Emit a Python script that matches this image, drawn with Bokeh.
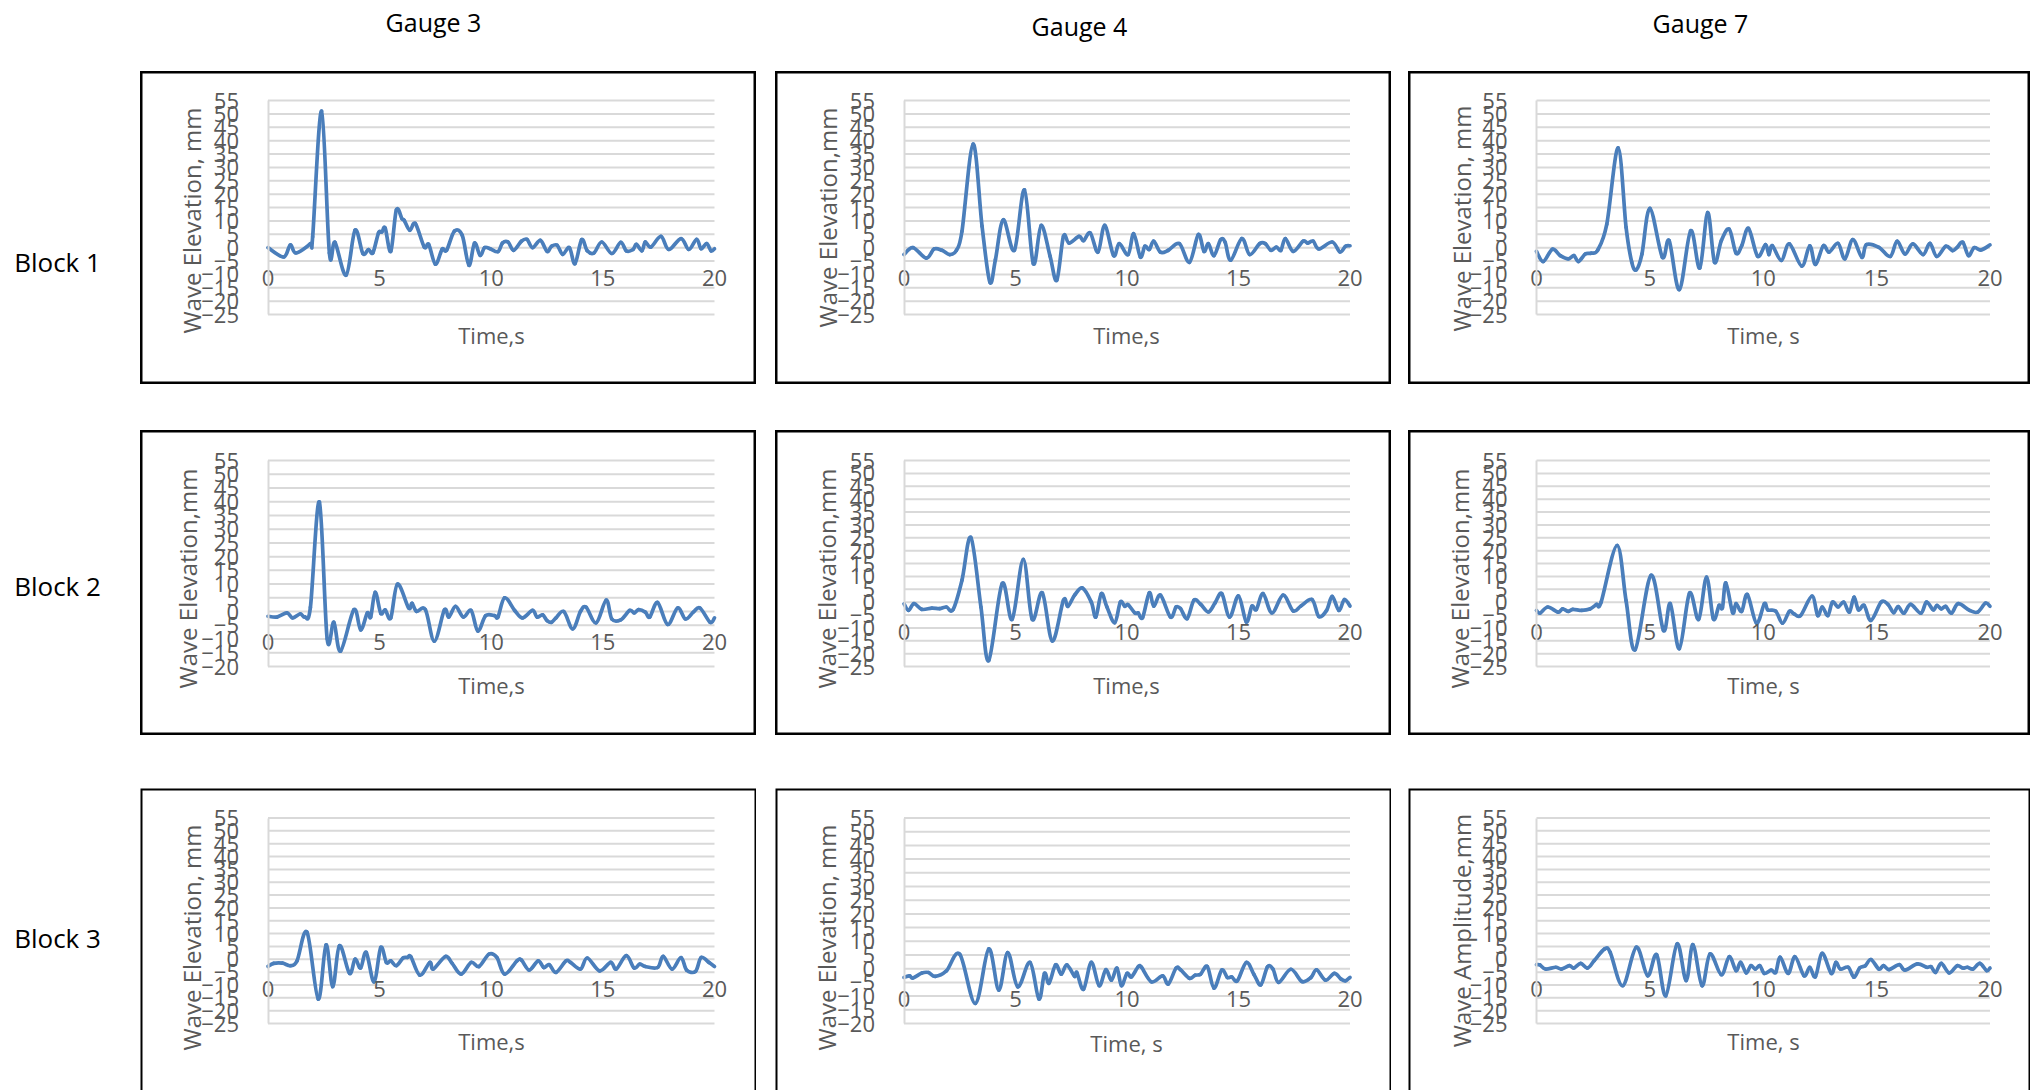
from math import pi
from bokeh.plotting import figure
from bokeh.models import Range1d, LinearAxis, FixedTicker, Spacer
from bokeh.layouts import row, column
from bokeh.core.properties import value
from bokeh.embed import file_html
from bokeh.resources import INLINE

# ---------------- data ----------------
gauges = ["Gauge 3", "Gauge 4", "Gauge 7"]
blocks = ["Block 1", "Block 2", "Block 3"]
x_ticks = [0, 5, 10, 15, 20]

t_b1_g3 = [0, 0.7, 1.0, 1.25, 1.9, 2.0, 2.4, 2.75, 3.0, 3.5, 3.9, 4.25, 4.5, 4.7, 4.95, 5.1, 5.25, 5.5, 5.75, 6.0,
           6.1, 6.35, 6.6, 7.0, 7.2, 7.5, 7.8, 8.0, 8.35, 8.7, 9.0, 9.25, 9.5, 9.7, 9.95, 10.3, 10.5, 10.75, 11.0, 11.35,
           11.6, 11.85, 12.2, 12.5, 12.7, 12.95, 13.2, 13.5, 13.75, 14.05, 14.3, 14.6, 14.95, 15.4, 15.8, 16.05, 16.35,
           16.5, 16.75, 16.9, 17.15, 17.6, 17.95, 18.5, 18.85, 19.2, 19.4, 19.65, 19.85, 20]
y_b1_g3 = [0, -3.5, 1, -2, 1.5, 4, 51, -2, 2, -10.3, 6.5, -2.2, -0.7, -1.9, 5.5, 5.8, 7.3, -1.4, 14.1, 10.8,
           10.2, 6.5, 9, 0.2, 1.2, -6.2, -0.6, -1, 6.2, 4.6, -6.6, 1.7, -2.9, 0, -0.4, -1.5, 1.7, 2.1, -1, 2.4,
           3.1, 0, 2.7, -1.4, 0.5, 0.9, -2.5, 0, -6, 3, -1.2, -2, 2.1, -2.2, 2, -1.2, -0.7,
           1.2, -1.2, 2.1, 0.2, 4.2, -0.7, 3.4, -0.7, 3.1, -0.4, 1.5, -1.2, -0.4]

t_b1_g4 = [0, 0.4, 1.0, 1.35, 1.7, 2.05, 2.35, 2.6, 3.1, 3.5, 3.85, 4.1, 4.45, 4.95, 5.4, 5.8, 6.15, 6.55, 6.85, 7.15,
           7.4, 7.85, 8.05, 8.35, 8.7, 9.0, 9.4, 9.65, 10.05, 10.3, 10.6, 10.8, 11.0, 11.2, 11.5, 11.85, 12.35, 12.8,
           13.2, 13.45, 13.65, 13.9, 14.2, 14.4, 14.65, 15.15, 15.5, 15.95, 16.2, 16.45, 16.7, 16.9, 17.1, 17.45,
           17.9, 18.1, 18.35, 18.6, 19.2, 19.55, 19.8, 20]
y_b1_g4 = [-2.6, 0, -3.9, -0.5, -1, -2.6, -1, 6.1, 38.7, 8, -12.9, -4.5, 10.4, -1, 21.6, -6, 8.3, -3.2, -12.2, 4.2,
           1.7, 4.2, 2.6, 5.5, -1.7, 8.3, -3, 1.5, -2.6, 5.2, -3.5, 0.5, -0.7, 2.4, -1.7, -1, 1.5, -5.5,
           4.9, -1.4, 1.5, -3, 3, 2, -4.7, 3.4, -2.6, 1.5, 1.5, -1, 0.2, -1, 3.4, -1.4,
           2.4, 1.7, 2.4, -0.5, 2.1, -1.6, 0.5, 0.7]

t_b1_g7 = [0, 0.3, 0.7, 1.05, 1.4, 1.65, 1.85, 2.15, 2.4, 2.7, 3.1, 3.6, 3.95, 4.2, 4.4, 4.65, 5.0, 5.55, 5.85, 6.3,
           6.8, 7.2, 7.55, 7.85, 8.15, 8.5, 8.8, 9.05, 9.35, 9.75, 10.1, 10.25, 10.4, 10.8, 11.15, 11.7, 12.05, 12.3,
           12.65, 12.9, 13.3, 13.6, 13.95, 14.35, 14.55, 15.1, 15.6, 15.9, 16.25, 16.6, 17.05, 17.35, 17.65, 18.05,
           18.35, 18.55, 18.8, 19.05, 19.3, 19.6, 20]
y_b1_g7 = [-1.4, -5.2, -0.6, -3, -4.2, -3, -5.2, -2.4, -2.1, -0.9, 8.8, 37.3, 7.6, -5.4, -8.3, -2.4, 14.7, -3.6, 2.6, -15.7,
           6.3, -7.6, 13.1, -5.4, 2.6, 6.9, -2.1, 0.7, 7.2, -3.2, 1.1, -2.6, 0.7, -4.8, 1.4, -6.9, 0.7, -6.3,
           0.7, -1.7, 1.6, -4.2, 3, -3.6, 1.1, 0.1, -3.3, 2.4, -2.4, 1.4, -2.6, 1.6, -3.3, 0.5,
           -1.1, 0.1, 2, -3, 0, -0.9, 1]

t_b2_g3 = [0, 0.4, 0.85, 1.1, 1.45, 1.65, 1.9, 2.3, 2.65, 2.95, 3.25, 3.85, 4.15, 4.45, 4.6, 4.8, 5.05, 5.25, 5.5, 5.8,
           6.3, 6.45, 6.65, 7.05, 7.45, 7.9, 8.1, 8.4, 8.75, 9.1, 9.4, 9.75, 10.15, 10.3, 10.6, 11.05, 11.4, 11.85,
           12.05, 12.3, 12.5, 12.7, 12.9, 13.25, 13.65, 14.0, 14.25, 14.7, 15.15, 15.4, 15.8, 16.2, 16.4, 16.6, 16.9,
           17.1, 17.45, 17.9, 18.35, 18.7, 19.05, 19.35, 19.8, 20]
y_b2_g3 = [-1.7, -2, -0.5, -2.3, -0.8, -2, 1.6, 39.9, -9.9, -3.9, -14.4, 0.7, -6.7, -0.5, -2, 7, -0.6, 0.6, -2.3, 10,
           1.3, 3, 0.1, 0.7, -10.8, 0.6, -2, 1.9, -2, 0.4, -7.1, -1.5, -1.5, -2, 5, 0.4, -2.3, 0.4,
           -2, -1.2, -3.3, -3.9, -2.3, 0, -6.3, 0.1, 1.6, -4.1, 4.2, -2.7, -3, 0.4, -0.5, 0.7, -0.2,
           -2, 3.3, -4.7, 1.3, -2.7, -0.2, 1.3, -3.9, -2.3]

t_b2_g4 = [0, 0.2, 0.45, 0.8, 1.25, 1.6, 1.9, 2.2, 2.6, 3.0, 3.45, 3.8, 4.4, 4.85, 5.35, 5.75, 6.2, 6.65, 7.15, 7.35,
           7.65, 8.0, 8.4, 8.6, 8.85, 9.1, 9.45, 9.7, 9.9, 10.05, 10.35, 10.5, 10.7, 11.0, 11.2, 11.5, 11.95, 12.2,
           12.4, 12.7, 13.0, 13.3, 13.65, 13.95, 14.25, 14.6, 15.0, 15.35, 15.6, 15.8, 16.1, 16.5, 17.0, 17.45, 17.8,
           18.3, 18.6, 18.95, 19.2, 19.5, 19.75, 20]
y_b2_g4 = [-0.6, -3.2, -0.6, -2.8, -2.3, -2.5, -1.9, -2.9, 8.5, 25.1, -1.9, -22.7, 7.2, -6.7, 16.6, -6.7, 3.6, -15.1, 0.7, -1.6,
           2.7, 5.5, 0, -5.8, 3.3, -1.9, -8, 0, -1.6, -1, -4.2, -4.2, -6, 3.6, -1.6, 2.7, -5.8, -1.9,
           -2.5, -6.4, 0.7, -0.8, -3.8, -0.3, 3.3, -5.8, 2.4, -7.7, -1.6, -2.9, 3.3, -4.2, 2.7, -3.4, -1.5,
           1, -5.6, -3.2, 2.2, -3.2, 1, -1.5]

t_b2_g7 = [0, 0.15, 0.5, 0.95, 1.15, 1.4, 1.6, 2.0, 2.35, 2.65, 2.85, 3.55, 3.95, 4.35, 5.05, 5.6, 5.9, 6.3, 6.75, 7.15,
           7.5, 7.8, 8.05, 8.2, 8.35, 8.65, 8.8, 9.05, 9.3, 9.7, 10.05, 10.2, 10.55, 10.85, 11.15, 11.35, 11.65, 12.15,
           12.4, 12.6, 12.85, 13.05, 13.3, 13.55, 13.8, 14.0, 14.2, 14.45, 14.75, 15.2, 15.5, 15.75, 15.95, 16.2,
           16.5, 16.95, 17.2, 17.5, 17.65, 17.85, 18.05, 18.3, 18.6, 19.1, 19.45, 19.8, 20]
y_b2_g7 = [-3.2, -4.3, -1.9, -3.9, -2.6, -3.6, -2.8, -3.2, -2.7, -0.9, 0, 22, 0.6, -18.5, 10.4, -11, -0.6, -18.1, 3.5, -6.7,
           9.7, -6.5, -1.3, -2.2, 7.5, -4.1, -0.6, -3.6, 3, -8.2, -0.6, -3, -3.5, -8.2, -3.6, -4.5, -5.2, 2.3,
           -5.2, -1.9, -5.2, 0, -1.9, 0, -3.9, 1.9, -3, -1.3, -7.1, 0, -0.9, -4.1, -1.7, -4.3,
           -0.9, -4.3, 0, -3, -1.3, -2.6, -1.7, -4.3, -0.6, -3.2, -3.9, -0.4, -1.6]

t_b3_g3 = [0, 0.25, 0.65, 1.0, 1.3, 1.75, 2.25, 2.6, 2.9, 3.2, 3.65, 3.9, 4.15, 4.4, 4.75, 5.05, 5.3, 5.5, 5.75, 6.05,
           6.25, 6.4, 6.8, 7.25, 7.4, 7.95, 8.25, 8.65, 9.1, 9.45, 9.9, 10.25, 10.6, 11.15, 11.35, 11.7, 12.1, 12.35,
           12.6, 12.9, 13.35, 13.55, 14.0, 14.3, 14.85, 15.35, 15.6, 16.05, 16.4, 16.65, 16.9, 17.45, 17.7, 18.1,
           18.5, 18.75, 19.15, 19.4, 19.75, 20]
y_b3_g3 = [-2.8, -1.6, -1.5, -2.5, -0.6, 10.5, -15.5, 5.6, -10.7, 5.3, -5.5, 0, -3.4, 2.7, -8.8, 4.6, -1.2, -0.6, -2.5, 0.5,
           0.7, 1, -6.2, -1.2, -3.8, 1.1, -1.6, -5.8, -1.2, -2.8, 2, 0.7, -5.8, -0.6, -0.3, -4.2, -0.6, -3.2,
           -2.1, -5.1, -0.6, -1.2, -3.8, 0.5, -4.5, -1.2, -3.8, 1.4, -3.4, -1.9, -2.8, -3.2, 1.1, -3.8,
           0.7, -4.2, -4.7, 0.7, -1.2, -2.8]

t_b3_g4 = [0, 0.25, 0.4, 0.8, 1.1, 1.4, 1.9, 2.5, 3.2, 3.8, 4.25, 4.65, 5.1, 5.65, 6.05, 6.3, 6.5, 6.8, 7.05, 7.3,
           7.65, 7.75, 8.05, 8.4, 8.75, 9.05, 9.3, 9.55, 9.75, 10.0, 10.2, 10.5, 10.65, 11.1, 11.6, 11.85, 12.2, 12.4,
           12.8, 13.05, 13.3, 13.6, 13.9, 14.25, 14.5, 14.7, 14.95, 15.35, 15.7, 16.0, 16.3, 16.55, 16.8, 17.35,
           17.85, 18.25, 18.5, 18.9, 19.3, 19.6, 19.8, 20]
y_b3_g4 = [-3.2, -2.6, -3.4, -1.6, -1.4, -2.8, -0.8, 5.3, -12.7, 7.2, -7.8, 5.9, -6.6, 2.3, -11.1, -1.7, -5.3, 1.4, -2, 1.4,
           -2.8, -1.4, -7.5, 2.3, -6.2, -0.4, -4.2, 0.2, -6.2, -1.7, -3, 0.7, 0.5, -4.8, -2.6, -5.6, 0.2, -0.4,
           -3.5, -2.4, -2, 0.8, -7.1, -0.5, -3.2, -3, -4.4, 2.3, -2.2, -5.9, 0.7, -0.2, -5, -0.2,
           -4.7, -3.2, -0.4, -4.2, -1.7, -3.8, -4.4, -3.2]

t_b3_g7 = [0, 0.15, 0.4, 0.85, 1.1, 1.45, 1.65, 1.95, 2.25, 2.55, 3.0, 3.25, 3.8, 4.4, 4.9, 5.3, 5.7, 6.2, 6.6, 6.9,
           7.3, 7.65, 8.15, 8.5, 8.8, 9.0, 9.25, 9.45, 9.65, 9.85, 10.05, 10.35, 10.55, 10.75, 11.1, 11.4, 11.8, 12.05,
           12.3, 12.6, 13.0, 13.2, 13.4, 13.75, 14.0, 14.25, 14.5, 14.75, 15.1, 15.3, 15.55, 16.0, 16.25, 16.8, 17.2,
           17.4, 17.6, 17.85, 18.2, 18.55, 18.8, 19.0, 19.25, 19.55, 19.85, 20]
y_b3_g7 = [-2.1, -2.2, -3.8, -3.1, -3.8, -2.5, -3.4, -1.6, -3.4, -0.5, 4, 2.7, -10.3, 4.7, -6.4, 1.8, -14.2, 6, -8.3, 5.7,
           -10.3, 2.1, -6, 1, -4.4, -1.2, -5.3, -2.5, -3.8, -2.5, -5.5, -4.2, -5.1, 0.8, -5.5, 1, -6.4, -3.1,
           -6.8, 2.3, -5.5, -1.2, -3.8, -3.1, -7, -3.4, -2.5, -0.1, -3.8, -2.5, -4, -2.1, -4.2, -1.8, -3.1,
           -2.9, -5.1, -1.6, -5.3, -2.5, -3.4, -3.1, -3.8, -1.6, -4.4, -3.4]

y_ticks_25 = [55, 50, 45, 40, 35, 30, 25, 20, 15, 10, 5, 0, -5, -10, -15, -20, -25]
y_ticks_20 = [55, 50, 45, 40, 35, 30, 25, 20, 15, 10, 5, 0, -5, -10, -15, -20]

y_titles = [["Wave Elevation, mm", "Wave Elevation,mm", "Wave Elevation, mm"],
            ["Wave Elevation,mm", "Wave Elevation,mm", "Wave Elevation,mm"],
            ["Wave Elevation, mm", "Wave Elevation, mm", "Wave Amplitude,mm"]]
x_titles = [["Time,s", "Time,s", "Time, s"],
            ["Time,s", "Time,s", "Time, s"],
            ["Time,s", "Time, s", "Time, s"]]
series = [[(t_b1_g3, y_b1_g3), (t_b1_g4, y_b1_g4), (t_b1_g7, y_b1_g7)],
          [(t_b2_g3, y_b2_g3), (t_b2_g4, y_b2_g4), (t_b2_g7, y_b2_g7)],
          [(t_b3_g3, y_b3_g3), (t_b3_g4, y_b3_g4), (t_b3_g7, y_b3_g7)]]
y_tick_sets = [[y_ticks_25, y_ticks_25, y_ticks_25],
               [y_ticks_20, y_ticks_25, y_ticks_25],
               [y_ticks_25, y_ticks_20, y_ticks_25]]

# ---------------- styling / layout ----------------
FONT = "Open Sans"
BLUE = "#4a7ebb"
GRIDC = "#d9d9d9"
TXT = "#595959"

LEFT_W = 140
HEAD_H = 71
col_w = [616, 616, 622]
col_gap = [19, 17]
col_lr = [(127.5, 42), (128.5, 41.5), (128, 40.5)]
row_h = [313, 305, 302]
row_gap = [46, 53]
row_tb = [(29, 70), (30, 69), (29.5, 67)]
ytitle_pos = [[(51, 149), (52, 146), (53, 147)],
              [(47, 148), (51, 148), (51, 148)],
              [(51, 149), (51, 149), (53, 142)]]
xtitle_pos = [[(351, 263), (351, 263), (355, 263)],
              [(351, 254), (351, 254), (355, 254)],
              [(351, 252), (351, 254), (355, 252)]]


def smooth_segments(t, y):
    """Cubic Bezier pieces through the points (smoothed-line rendering)."""
    n = len(t)
    out = {k: [] for k in ("x0", "y0", "x1", "y1", "cx0", "cy0", "cx1", "cy1")}
    for i in range(n - 1):
        a = max(i - 1, 0)
        d = min(i + 2, n - 1)
        out["x0"].append(t[i]); out["y0"].append(y[i])
        out["x1"].append(t[i + 1]); out["y1"].append(y[i + 1])
        out["cx0"].append(t[i] + (t[i + 1] - t[a]) / 6.0)
        out["cy0"].append(y[i] + (y[i + 1] - y[a]) / 6.0)
        out["cx1"].append(t[i + 1] - (t[d] - t[i]) / 6.0)
        out["cy1"].append(y[i + 1] - (y[d] - y[i]) / 6.0)
    return out


def make_panel(r, c):
    t, y = series[r][c]
    yt = y_tick_sets[r][c]
    ymax, ymin = max(yt), min(yt)
    W, H = col_w[c], row_h[r]
    L, R = col_lr[c]
    T, B = row_tb[r]
    sx = (x_ticks[-1] - x_ticks[0]) / (W - L - R)
    sy = (ymax - ymin) / (H - T - B)
    p = figure(width=W, height=H, output_backend="svg", toolbar_location=None, title=None,
               x_axis_location=None, y_axis_location=None, min_border=0,
               x_range=Range1d(x_ticks[0] - L * sx, x_ticks[-1] + R * sx),
               y_range=Range1d(ymin - B * sy, ymax + T * sy))
    p.extra_x_ranges = {"px": Range1d(0, W)}
    p.extra_y_ranges = {"px": Range1d(H, 0)}
    p.grid.visible = False
    p.background_fill_color = "white"
    p.border_fill_color = "white"
    if r < 2:
        p.outline_line_color = "black"
        p.outline_line_width = 4
    else:
        # bottom row: the box runs off the bottom of the page
        p.outline_line_color = None
        p.multi_line(xs=[[0, 0, W, W]], ys=[[H + 10, 0, 0, H + 10]], line_color="black",
                     line_width=4, x_range_name="px", y_range_name="px")

    # horizontal gridlines
    p.segment(x0=[x_ticks[0]] * len(yt), x1=[x_ticks[-1]] * len(yt), y0=yt, y1=yt,
              line_color=GRIDC, line_width=2)

    yaxis = LinearAxis(fixed_location=0, ticker=FixedTicker(ticks=yt), bounds=(ymin, ymax),
                       axis_line_color=GRIDC, axis_line_width=2,
                       major_tick_line_color=None, minor_tick_line_color=None,
                       major_label_standoff=23, major_label_text_font=FONT,
                       major_label_text_font_size="22px", major_label_text_color=TXT)
    p.add_layout(yaxis, "left")
    xaxis = LinearAxis(fixed_location=0, ticker=FixedTicker(ticks=x_ticks),
                       axis_line_color=None, major_tick_line_color=None, minor_tick_line_color=None,
                       major_label_standoff=16, major_label_text_font=FONT,
                       major_label_text_font_size="22px", major_label_text_color=TXT)
    p.add_layout(xaxis, "below")

    seg = smooth_segments(t, y)
    p.bezier(x0=seg["x0"], y0=seg["y0"], x1=seg["x1"], y1=seg["y1"],
             cx0=seg["cx0"], cy0=seg["cy0"], cx1=seg["cx1"], cy1=seg["cy1"],
             line_color=BLUE, line_width=3.7, line_cap="round")

    yx, yy = ytitle_pos[r][c]
    p.text(x=[yx], y=[yy], text=[y_titles[r][c]], angle=pi / 2, text_align="center",
           text_baseline="middle", x_range_name="px", y_range_name="px",
           text_font=value(FONT), text_font_size="24px", text_color=TXT)
    xx, xy = xtitle_pos[r][c]
    p.text(x=[xx], y=[xy], text=[x_titles[r][c]], text_align="center",
           text_baseline="middle", x_range_name="px", y_range_name="px",
           text_font=value(FONT), text_font_size="22px", text_color=TXT)
    return p


def blank_fig(W, H):
    f = figure(width=W, height=H, output_backend="svg", toolbar_location=None, title=None,
               x_axis_location=None, y_axis_location=None, min_border=0,
               x_range=Range1d(0, W), y_range=Range1d(H, 0))
    f.grid.visible = False
    f.outline_line_color = None
    return f


total_w = LEFT_W + sum(col_w) + sum(col_gap)
total_h = HEAD_H + sum(row_h) + sum(row_gap)

header = blank_fig(total_w - LEFT_W, HEAD_H)
header.text(x=[293, 939, 1560], y=[21, 25, 22], text=gauges, text_align="center",
            text_baseline="middle", text_font=value(FONT), text_font_size="25px", text_color="black")

left = blank_fig(LEFT_W, total_h)
left.text(x=[57, 57, 57], y=[261, 585, 937], text=blocks, text_align="center",
          text_baseline="middle", text_font=value(FONT), text_font_size="26px", text_color="black")

rows = []
for r in range(3):
    rows.append(row(make_panel(r, 0), Spacer(width=col_gap[0], height=row_h[r]), make_panel(r, 1),
                    Spacer(width=col_gap[1], height=row_h[r]), make_panel(r, 2)))

p = row(left, column(header, rows[0], Spacer(width=10, height=row_gap[0]), rows[1],
                     Spacer(width=10, height=row_gap[1]), rows[2]))

open("out.html", "w").write(file_html(p, INLINE))
